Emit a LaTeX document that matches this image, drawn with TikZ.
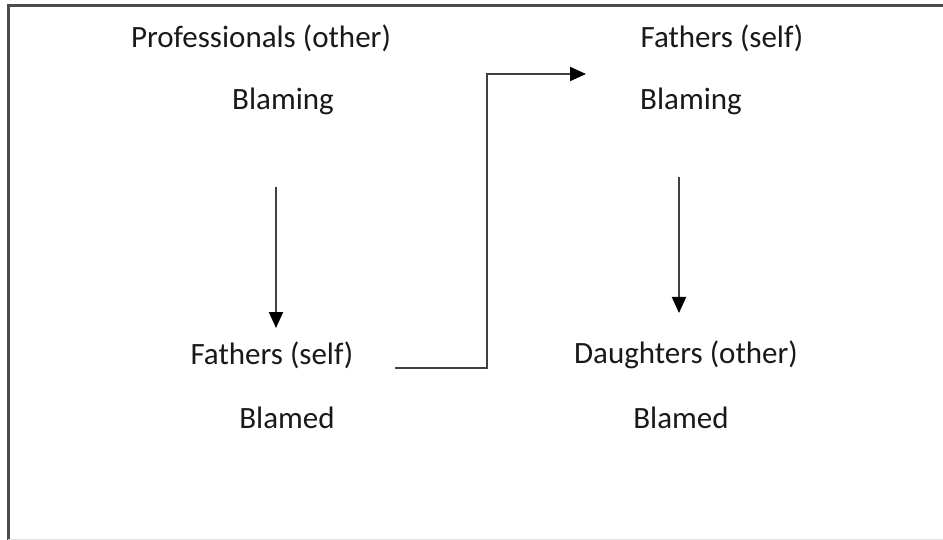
\documentclass[tikz,border=0pt]{standalone}
\usepackage{fontspec}
\setmainfont{Carlito}
\usetikzlibrary{arrows.meta}

\begin{document}
\begin{tikzpicture}[x=1pt,y=-1pt,
    lbl/.style={font=\fontsize{31}{37}\selectfont, text=black!90, inner sep=0pt}]
    \useasboundingbox (0,0) rectangle (943,540);
    \draw[line width=3pt,black!70] (8,540) -- (8,6) -- (943,6);
    \draw[black!12] (8,539) -- (943,539);

    \node[lbl] (Prof_O) at (261,38) {Professionals (other)};
    \node[lbl] (Blaming_L) at (283,101) {Blaming};
    \node[lbl] (Fath_L) at (272,355) {Fathers (self)};
    \node[lbl] (Blamed_L) at (287,418) {Blamed};

    \node[lbl] (Fath_R) at (722,38) {Fathers (self)};
    \node[lbl] (Blaming_R) at (691,101) {Blaming};
    \node[lbl] (Daug_O) at (686,355) {Daughters (other)};
    \node[lbl] (Blamed_R) at (681,418) {Blamed};

    \coordinate (L_top) at (276,187);
    \coordinate (L_bot) at (276,328);
    \coordinate (R_top) at (679,177);
    \coordinate (R_bot) at (679,313);
    \coordinate (E_start) at (395,368);
    \coordinate (E_end) at (586,74);

    \draw [line width=2pt, black!75, -{Triangle[length=16pt, width=14pt, color=black]}] (L_top) -- (L_bot);
    \draw [line width=2pt, black!75, -{Triangle[length=16pt, width=14pt, color=black]}] (R_top) -- (R_bot);
    \draw [line width=2pt, black!75, -{Triangle[length=16pt, width=14pt, color=black]}] (E_start) -- (487,368) -- (487,74) -- (E_end);
\end{tikzpicture}
\end{document}
